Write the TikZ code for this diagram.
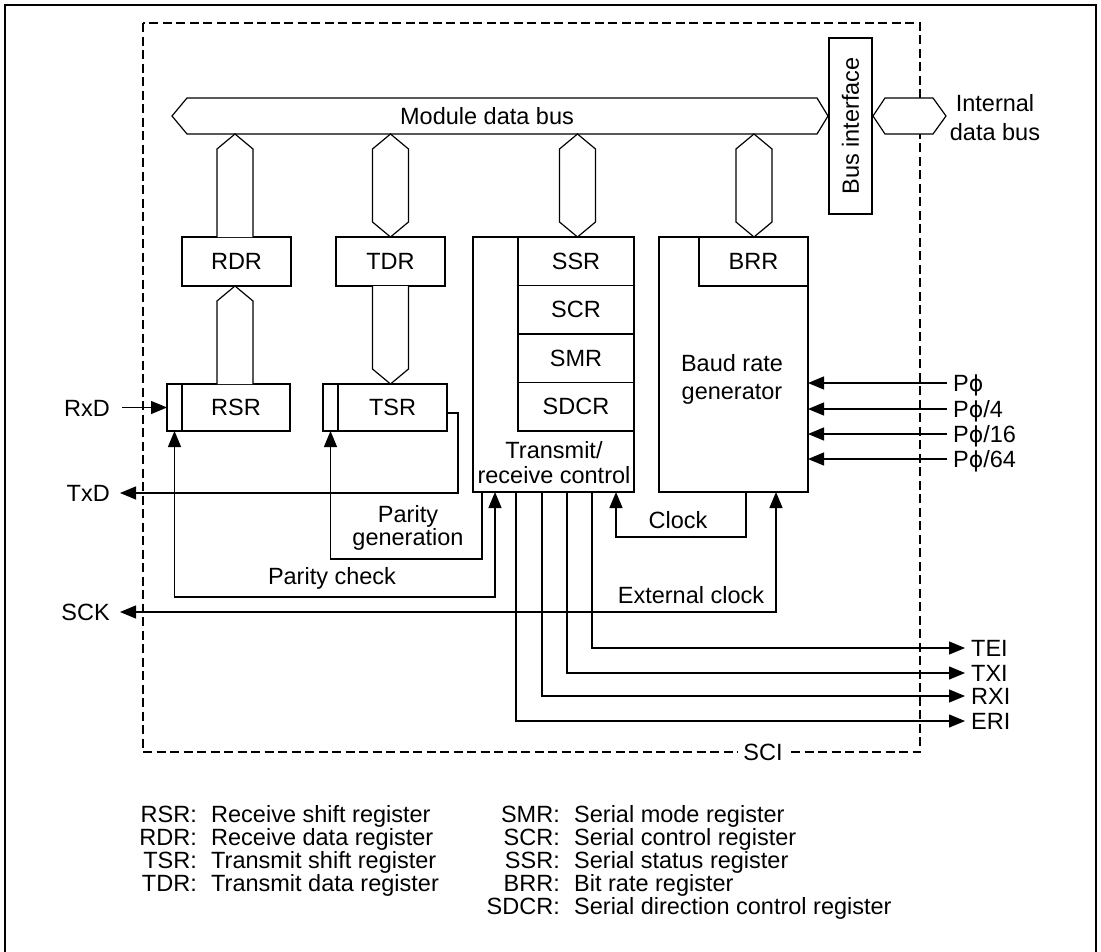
\documentclass[tikz,border=0pt]{standalone}
\usepackage{fontspec}
\setmainfont{Liberation Sans}
\newfontfamily\phifont{DejaVu Sans}
\newcommand{\Pphi}{P{\phifont\fontsize{22}{26}\selectfont ϕ}}
\usetikzlibrary{arrows.meta,calc}
\begin{document}
\begin{tikzpicture}[x=1pt,y=-1pt,
  every node/.style={font=\fontsize{23.5}{28}\selectfont, inner sep=0pt},
  ln/.style={line width=1.2pt},
  box/.style={draw, line width=1.2pt, rectangle, inner sep=0pt, outer sep=0pt},
  arr/.style={ln, -{Triangle[length=16pt,width=13pt]}},
  arrb/.style={ln, {Triangle[length=16pt,width=13pt]}-{Triangle[length=16pt,width=13pt]}},
  bus/.style={draw, line width=1.2pt, fill=white, line join=miter},
  sci/.style={line width=1.2pt, dash pattern=on 9pt off 4.5pt},
  txt/.style={anchor=base},
  lt/.style={anchor=base east},
  rt/.style={anchor=base west}
]
\useasboundingbox (0,0) rectangle (1101,951);
% outer frame (bottom edge lies outside the picture)
\draw[ln] (5,955) -- (5,5) -- (1096,5) -- (1096,955);
% SCI boundary
\draw[sci] (143,23) rectangle (920,752);
\node[fill=white, inner xsep=5pt, inner ysep=2pt] (scil) at (763,752) {SCI};

% module data bus
\draw[bus] (187,98) -- (817,98) -- (828,116) -- (817,134) -- (187,134) -- (172,116) -- cycle;
\node[txt] (mdb) at (487,124) {Module data bus};

% bus interface
\node[box, rotate=90, minimum width=176pt, minimum height=43pt] (bif) at (850.5,126) {Bus interface};

% internal data bus
\draw[bus] (873,116) -- (885,98) -- (933,98) -- (946,116) -- (933,134) -- (885,134) -- cycle;
\node[txt] (idb1) at (995,111) {Internal};
\node[txt] (idb2) at (995,140) {data bus};

% registers
\node[box, minimum width=109pt, minimum height=49pt] (rdr) at (236.5,261.5) {RDR};
\node[box, minimum width=109pt, minimum height=49pt] (tdr) at (390.5,261.5) {TDR};
\node[box, minimum width=15pt, minimum height=47pt] (rsrc) at (174.5,407.5) {};
\node[box, minimum width=108pt, minimum height=47pt] (rsr) at (236,407.5) {RSR};
\node[box, minimum width=15pt, minimum height=47pt] (tsrc) at (330.5,407.5) {};
\node[box, minimum width=109pt, minimum height=47pt] (tsr) at (392.5,407.5) {TSR};

% transmit/receive control
\node[box, minimum width=161pt, minimum height=255pt] (ctrl) at (553.5,364.5) {};
\node[box, minimum width=116pt, minimum height=48.5pt] (ssr) at (576,261.25) {SSR};
\node[box, minimum width=116pt, minimum height=48.5pt] (scr) at (576,309.75) {SCR};
\node[box, minimum width=116pt, minimum height=48.5pt] (smr) at (576,358.25) {SMR};
\node[box, minimum width=116pt, minimum height=48.5pt] (sdcr) at (576,406.75) {SDCR};
\node[txt] (ctrl1) at (554,458) {Transmit/};
\node[txt] (ctrl2) at (554,483) {receive control};

% baud rate generator
\node[box, minimum width=149pt, minimum height=255pt] (brg) at (733.5,364.5) {};
\node[box, minimum width=109pt, minimum height=49pt] (brr) at (753.5,261.5) {BRR};
\node[txt] (brg1) at (732,371) {Baud rate};
\node[txt] (brg2) at (732,399) {generator};

% bus connectors
\draw[bus] (217,237) -- (217,149) -- (235,134) -- (253,149) -- (253,237);
\draw[bus] (390.5,134) -- (408.5,149) -- (408.5,222) -- (390.5,237) -- (372.5,222) -- (372.5,149) -- cycle;
\draw[bus] (577.5,134) -- (595.5,149) -- (595.5,222) -- (577.5,237) -- (559.5,222) -- (559.5,149) -- cycle;
\draw[bus] (754,134) -- (772,149) -- (772,222) -- (754,237) -- (736,222) -- (736,149) -- cycle;
\draw[bus] (217,384) -- (217,301) -- (235,286) -- (253,301) -- (253,384);
\draw[bus] (372.5,286) -- (372.5,369) -- (390.5,384) -- (408.5,369) -- (408.5,286);

% external pins on the left
\node[lt] (rxd) at (110,416.5) {RxD};
\node[lt] (txd) at (110,501.5) {TxD};
\node[lt] (sck) at (110,620.5) {SCK};
\coordinate (rxdo) at (122,407.5);
\draw[arr] (rxdo) -- (rsrc.west);
\coordinate (txdt) at (458,493);
\draw[arr] ($(tsr.east)+(0,5.5)$) -| (txdt) -- (120,493);

% parity generation
\coordinate (pg) at (482,559);
\draw[arr] (ctrl.south -| pg) -- (pg) -| (tsrc.south);
\node[txt] (pgl1) at (408,522) {Parity};
\node[txt] (pgl2) at (408,545) {generation};
% parity check
\coordinate (pc) at (495,597);
\draw[arrb] (rsrc.south) |- (pc) -- (ctrl.south -| pc);
\node[txt] (pcl) at (332,584) {Parity check};

% clock
\coordinate (ck) at (746,537);
\coordinate (cki) at (616,537);
\draw[arr] (brg.south -| ck) -- (ck) -- (cki) -- (ctrl.south -| cki);
\node[txt] (ckl) at (678,528) {Clock};
% external clock
\coordinate (ec) at (776,612);
\draw[arrb] (brg.south -| ec) -- (ec) -- (120,612);
\node[txt] (ecl) at (691,603) {External clock};

% P phi inputs
\node[rt] (p1) at (953,391.5) {\Pphi};
\node[rt] (p2) at (953,417.5) {\Pphi/4};
\node[rt] (p3) at (953,442.5) {\Pphi/16};
\node[rt] (p4) at (953,467.5) {\Pphi/64};
\foreach \y in {383,409,434,459}{
  \draw[arr] (947,\y) -- (brg.east |- 947,\y);
}

% interrupt outputs
\node[rt] (tei) at (971,656.5) {TEI};
\node[rt] (txi) at (971,681.5) {TXI};
\node[rt] (rxi) at (971,704.5) {RXI};
\node[rt] (eri) at (971,729.5) {ERI};
\draw[arr] (ctrl.south -| 592,0) |- (965,648);
\draw[arr] (ctrl.south -| 567,0) |- (965,673);
\draw[arr] (ctrl.south -| 542,0) |- (965,696);
\draw[arr] (ctrl.south -| 516,0) |- (965,721);

% legend
\node[lt] (k1) at (197,822.5) {RSR:};
\node[rt] (d1) at (211,822.5) {Receive shift register};
\node[lt] (k2) at (197,845.5) {RDR:};
\node[rt] (d2) at (211,845.5) {Receive data register};
\node[lt] (k3) at (197,868.5) {TSR:};
\node[rt] (d3) at (211,868.5) {Transmit shift register};
\node[lt] (k4) at (197,891.5) {TDR:};
\node[rt] (d4) at (211,891.5) {Transmit data register};
\node[lt] (k5) at (560,822.5) {SMR:};
\node[rt] (d5) at (574,822.5) {Serial mode register};
\node[lt] (k6) at (560,845.5) {SCR:};
\node[rt] (d6) at (574,845.5) {Serial control register};
\node[lt] (k7) at (560,868.5) {SSR:};
\node[rt] (d7) at (574,868.5) {Serial status register};
\node[lt] (k8) at (560,891.5) {BRR:};
\node[rt] (d8) at (574,891.5) {Bit rate register};
\node[lt] (k9) at (560,914.5) {SDCR:};
\node[rt] (d9) at (574,914.5) {Serial direction control register};
\end{tikzpicture}
\end{document}
